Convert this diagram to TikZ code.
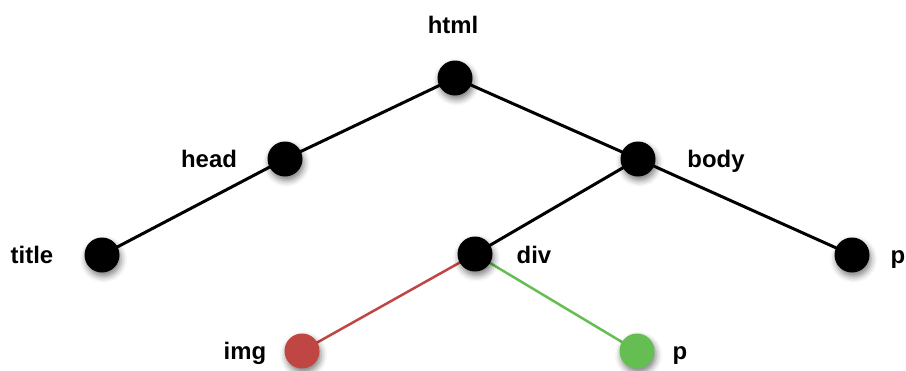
\documentclass[tikz,border=0pt]{standalone}
\usepackage{fontspec}
\setmainfont{Liberation Sans}
\usetikzlibrary{shadows.blur,backgrounds}
\definecolor{leafred}{RGB}{192,70,68}
\definecolor{leafgreen}{RGB}{100,190,82}
\tikzset{
  dot/.style={circle, fill=black, minimum size=35bp, inner sep=0pt,
    blur shadow={shadow xshift=1.5bp, shadow yshift=-4bp, shadow blur radius=6bp, shadow opacity=50}},
  reddot/.style={dot, fill=leafred},
  greendot/.style={dot, fill=leafgreen},
  tag/.style={font=\bfseries\fontsize{24}{24}\selectfont, inner sep=0pt, anchor=base},
  edge/.style={line width=3bp, black},
  rededge/.style={line width=2.5bp, leafred},
  greenedge/.style={line width=2.5bp, leafgreen}
}
\begin{document}
\begin{tikzpicture}[x=1bp, y=-1bp]
\useasboundingbox (0,0) rectangle (906,370);
% tree nodes
\node[dot] (html) at (455,78) {};
\node[dot] (head) at (285,159) {};
\node[dot] (body) at (638,159) {};
\node[dot] (title) at (102,255) {};
\node[dot] (div) at (475,254) {};
\node[dot] (pr) at (852,255) {};
\node[reddot] (img) at (302,351) {};
\node[greendot] (pg) at (637,351) {};
% labels
\node[tag] (lhtml) at (453,33) {html};
\node[tag] (lhead) at (209,167) {head};
\node[tag] (lbody) at (716,167) {body};
\node[tag] (ltitle) at (32,263) {title};
\node[tag] (ldiv) at (534,263) {div};
\node[tag] (lpr) at (898,263) {p};
\node[tag] (limg) at (245,359) {img};
\node[tag] (lpg) at (680,359) {p};
% connectors, kept behind the dots
\begin{scope}[on background layer]
\draw[edge] (html.center) -- (head.center);
\draw[edge] (html.center) -- (body.center);
\draw[edge] (head.center) -- (title.center);
\draw[edge] (body.center) -- (div.center);
\draw[edge] (body.center) -- (pr.center);
\draw[rededge] (div.center) -- (img.center);
\draw[greenedge] (div.center) -- (pg.center);
\end{scope}
\end{tikzpicture}
\end{document}
